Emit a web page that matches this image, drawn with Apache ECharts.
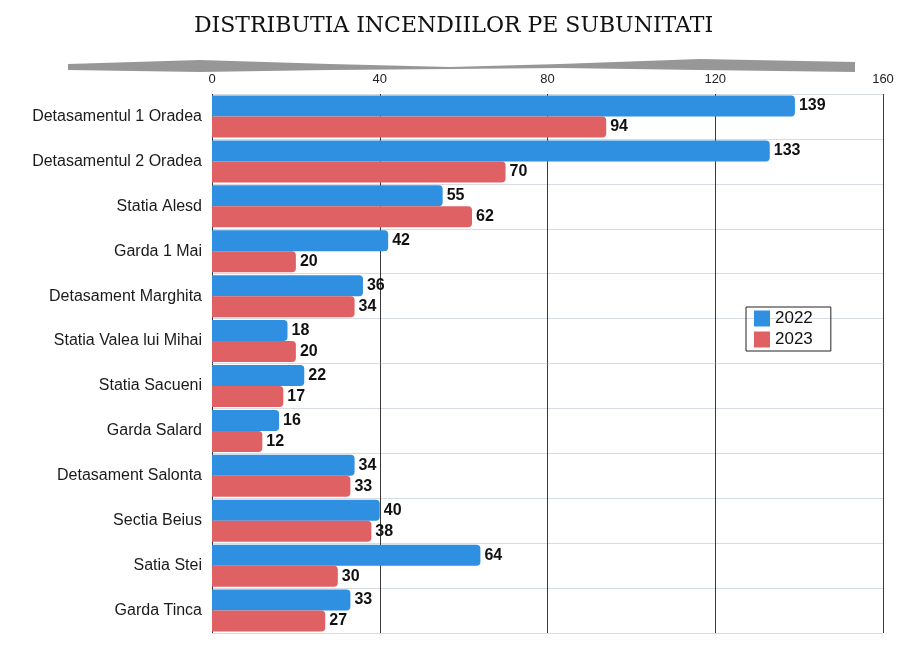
<!DOCTYPE html>
<html>
<head>
<meta charset="utf-8">
<script src="https://cdn.jsdelivr.net/npm/echarts@6/dist/echarts.min.js"></script>
<style>
html, body { margin: 0; padding: 0; background: #fff; }
#chart { width: 907px; height: 649px; }
</style>
</head>
<body>
<div id="chart"></div>
<script>
var categories = ['Detasamentul 1 Oradea', 'Detasamentul 2 Oradea', 'Statia Alesd', 'Garda 1 Mai',
    'Detasament Marghita', 'Statia Valea lui Mihai', 'Statia Sacueni', 'Garda Salard',
    'Detasament Salonta', 'Sectia Beius', 'Satia Stei', 'Garda Tinca'];
var values2022 = [139, 133, 55, 42, 36, 18, 22, 16, 34, 40, 64, 33];
var values2023 = [94, 70, 62, 20, 34, 20, 17, 12, 33, 38, 30, 27];
var seriesNames = ['2022', '2023'];

var myChart = echarts.init(document.getElementById('chart'));

var barLabel = {
    show: true,
    position: 'right',
    distance: 4,
    color: '#111',
    fontWeight: 'bold',
    fontSize: 16,
    fontFamily: 'Liberation Sans'
};

myChart.setOption({
    backgroundColor: '#fff',
    title: {
        text: 'DISTRIBUTIA INCENDIILOR PE SUBUNITATI',
        left: 'center',
        top: 10,
        textStyle: {
            fontFamily: 'DejaVu Serif',
            fontSize: 22,
            fontWeight: 'normal',
            color: '#111'
        }
    },
    graphic: [{
        type: 'polygon',
        shape: {points: [[68, 64], [200, 60], [330, 64], [450, 67], [560, 64], [700, 59], [855, 62], [855, 72], [700, 70], [560, 68], [450, 69], [330, 70], [200, 72], [68, 70]]},
        style: {fill: '#7d7d7d', opacity: 0.8}
    }],
    legend: {
        data: seriesNames,
        orient: 'vertical',
        left: 746,
        top: 307,
        icon: 'rect',
        itemWidth: 16,
        itemHeight: 16,
        itemGap: 4,
        borderColor: '#222',
        borderWidth: 1,
        padding: [3, 18, 3, 8],
        textStyle: {fontSize: 17, color: '#111', fontFamily: 'Liberation Sans'}
    },
    grid: {
        left: 212,
        right: 24,
        top: 94,
        bottom: 16
    },
    xAxis: {
        type: 'value',
        position: 'top',
        min: 0,
        max: 160,
        interval: 40,
        axisLine: {show: false},
        axisTick: {show: false},
        axisLabel: {color: '#222', fontSize: 13, margin: 8, fontFamily: 'Liberation Sans'},
        splitLine: {show: true, lineStyle: {color: '#3a3a3a', width: 1}}
    },
    yAxis: {
        type: 'category',
        data: categories,
        inverse: true,
        axisLine: {show: false},
        axisTick: {show: false},
        axisLabel: {color: '#1a1a1a', fontSize: 16, margin: 10, fontFamily: 'Liberation Sans'},
        splitLine: {show: true, lineStyle: {color: '#d6dbe6', width: 1}}
    },
    series: [{
        name: seriesNames[0],
        type: 'bar',
        data: values2022,
        barWidth: 21,
        barGap: '0%',
        itemStyle: {color: '#2f8fe0', borderRadius: [0, 4, 4, 0]},
        label: barLabel
    }, {
        name: seriesNames[1],
        type: 'bar',
        data: values2023,
        barWidth: 21,
        itemStyle: {color: '#e06164', borderRadius: [0, 4, 4, 0]},
        label: barLabel
    }]
});
</script>
</body>
</html>
